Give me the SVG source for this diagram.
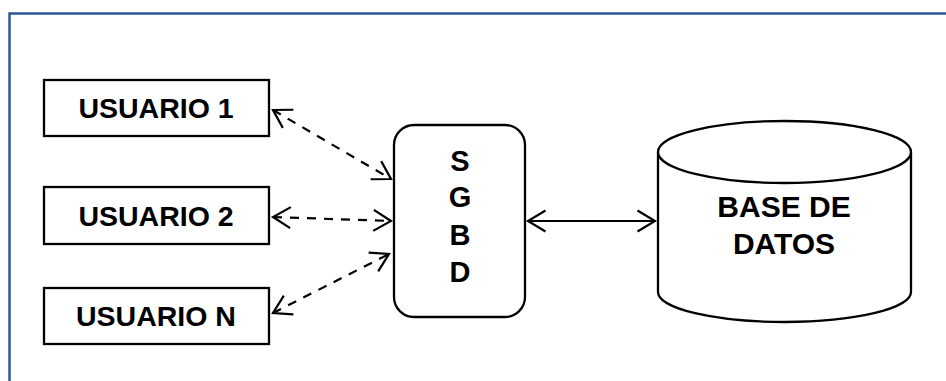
<svg xmlns="http://www.w3.org/2000/svg" width="946" height="381" viewBox="0 0 946 381">
  <style>
    .box { fill: #ffffff; stroke: #000000; stroke-width: 2.3; }
    .label { font-family: "Liberation Sans", Arial, sans-serif; font-weight: bold; fill: #000000; text-anchor: middle; }
    .link { fill: none; stroke: #000000; stroke-width: 2.2; }
    .dashed { stroke-dasharray: 9 8; }
    .frame { fill: none; stroke: #2B5797; stroke-width: 2.5; }
  </style>
  <defs>
    <marker id="openArrow" markerUnits="userSpaceOnUse" markerWidth="30" markerHeight="30" viewBox="-25 -15 30 30" refX="0" refY="0" orient="auto-start-reverse">
      <path d="M-17.5,-10.5 L0,0 L-17.5,10.5" fill="none" stroke="#000000" stroke-width="2.2" stroke-dasharray="none" stroke-linejoin="miter"/>
    </marker>
  </defs>

  <rect width="946" height="381" fill="#ffffff"/>

  <!-- outer frame: top and left edges -->
  <path class="frame" d="M9.5,381 V13.5 H946"/>

  <g id="usuario-1">
    <rect class="box" x="44" y="80" width="225" height="56"/>
    <text class="label" x="156" y="118" font-size="28.5">USUARIO 1</text>
  </g>

  <g id="usuario-2">
    <rect class="box" x="44" y="187" width="225" height="57"/>
    <text class="label" x="156" y="225.5" font-size="28.5">USUARIO 2</text>
  </g>

  <g id="usuario-n">
    <rect class="box" x="44" y="288" width="225" height="56"/>
    <text class="label" x="156" y="326" font-size="28.5">USUARIO N</text>
  </g>

  <g id="sgbd">
    <rect class="box" x="394" y="125" width="131" height="192" rx="20" ry="20"/>
    <text class="label" x="460" y="171" font-size="29">S</text>
    <text class="label" x="460" y="207" font-size="29">G</text>
    <text class="label" x="460" y="245" font-size="29">B</text>
    <text class="label" x="460" y="282" font-size="29">D</text>
  </g>

  <g id="base-de-datos">
    <path class="box" d="M658,152 V292 A126.5,30 0 0 0 911,292 V152"/>
    <ellipse class="box" cx="784.5" cy="152" rx="126.5" ry="31"/>
    <text class="label" x="784" y="217" font-size="30">BASE DE</text>
    <text class="label" x="784" y="254" font-size="30">DATOS</text>
  </g>

  <g id="connectors">
    <line class="link dashed" x1="273" y1="110" x2="391" y2="179" marker-start="url(#openArrow)" marker-end="url(#openArrow)"/>
    <line class="link dashed" x1="273" y1="217" x2="391" y2="221" marker-start="url(#openArrow)" marker-end="url(#openArrow)"/>
    <line class="link dashed" x1="273" y1="313" x2="389" y2="254" marker-start="url(#openArrow)" marker-end="url(#openArrow)"/>
    <line class="link" x1="528" y1="221" x2="655" y2="221" marker-start="url(#openArrow)" marker-end="url(#openArrow)"/>
  </g>
</svg>
